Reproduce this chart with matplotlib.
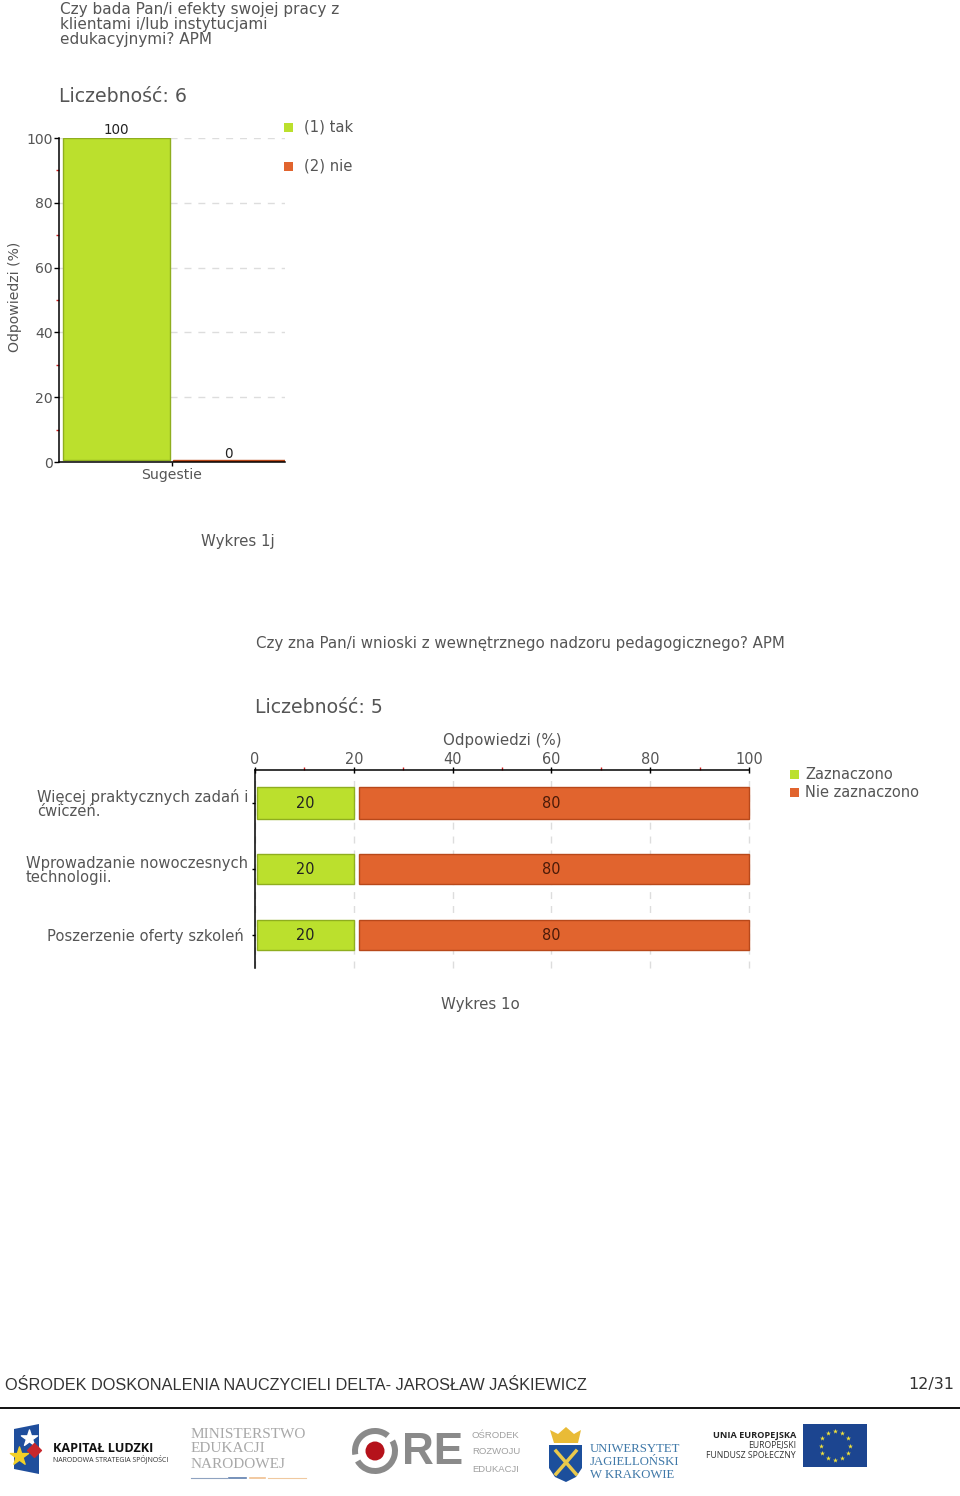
#!/usr/bin/env python
"""
Page 12/31 of the report: charts 1j and 1o with the footer logos
"""

import numpy as np
import matplotlib

matplotlib.use("Agg")
import matplotlib.pyplot as plt
from matplotlib.patches import Circle, Polygon, Rectangle, Wedge

WIDTH = 960
HEIGHT = 1496

GREEN = "#bbe02d"
GREEN_EDGE = "#8fae1f"
ORANGE = "#e1642e"
ORANGE_EDGE = "#b8481a"
TEXT = "#555555"
GRID = "#dddddd"
MINOR = "#d02020"

# Chart 1j
series_1j = ["(1) tak", "(2) nie"]
values_1j = [100, 0]
category_1j = "Sugestie"
yticks_1j = [0, 20, 40, 60, 80, 100]
yminor_1j = [10, 30, 50, 70, 90]

# Chart 1o
series_1o = ["Zaznaczono", "Nie zaznaczono"]
categories_1o = [
    "Więcej praktycznych zadań i\nćwiczeń.",
    "Wprowadzanie nowoczesnych\ntechnologii.",
    "Poszerzenie oferty szkoleń ",
]
checked_1o = [20, 20, 20]
unchecked_1o = [80, 80, 80]
xticks_1o = [0, 20, 40, 60, 80, 100]
xminor_1o = [10, 30, 50, 70, 90]


def px(size):
    # font size given in image pixels
    return size * 0.72


def axes_at(fig, left, top, right, bottom):
    return fig.add_axes(
        [left / WIDTH, 1 - bottom / HEIGHT, (right - left) / WIDTH, (bottom - top) / HEIGHT]
    )


def draw_chart_1j(fig):
    ax = axes_at(fig, 59, 138, 285, 462)
    ax.set_xlim(-1, 1)
    ax.set_ylim(0, 100)
    ax.set_axisbelow(True)
    ax.yaxis.grid(True, color=GRID, linestyle=(0, (5, 5)), linewidth=1)

    # bars stand just above the axis line, the empty one stays visible as a thin strip
    ax.bar(-0.49, values_1j[0] - 0.5, bottom=0.5, width=0.95, color=GREEN,
           edgecolor=GREEN_EDGE, linewidth=1)
    ax.bar(0.505, values_1j[1] + 0.25, bottom=0.3, width=0.99, color=ORANGE,
           edgecolor=ORANGE_EDGE, linewidth=1)
    ax.text(-0.49, values_1j[0] + 0.2, str(values_1j[0]), ha="center", va="bottom",
            fontsize=px(13.5), color="#222222")
    ax.text(0.5, values_1j[1] + 0.4, str(values_1j[1]), ha="center", va="bottom",
            fontsize=px(13.5), color="#222222")

    for side in ["top", "right"]:
        ax.spines[side].set_visible(False)
    ax.spines["left"].set_linewidth(1.1)
    ax.spines["bottom"].set_linewidth(1.1)

    ax.set_yticks(yticks_1j)
    ax.set_yticklabels([str(v) for v in yticks_1j], fontsize=px(14), color=TEXT)
    ax.set_yticks(yminor_1j, minor=True)
    ax.tick_params(axis="y", which="major", length=3.5, width=1, pad=1)
    ax.tick_params(axis="y", which="minor", length=2, width=1, color=MINOR)
    ax.set_xticks([0])
    ax.set_xticklabels([category_1j], fontsize=px(14), color=TEXT)
    ax.tick_params(axis="x", length=3, width=1, pad=1)
    ax.set_ylabel("Odpowiedzi (%)", fontsize=px(14), color=TEXT)
    ax.yaxis.set_label_coords(-0.165, 0.51)


def draw_chart_1o(fig):
    ax = axes_at(fig, 255, 770, 749, 968)
    ax.set_xlim(0, 100)
    ax.set_ylim(2.5, -0.5)
    ax.set_axisbelow(True)
    ax.xaxis.grid(True, color=GRID, linestyle=(0, (5, 5)), linewidth=1)
    for line in ax.get_xgridlines():
        line.set_clip_on(False)

    y = np.arange(len(categories_1o))
    heights = [0.49, 0.46, 0.46]
    ax.barh(y, [v - 0.4 for v in checked_1o], left=0.4, height=heights,
            color=GREEN, edgecolor=GREEN_EDGE, linewidth=1)
    bars = ax.barh(y, [v - 1 for v in unchecked_1o], left=[v + 1 for v in checked_1o],
                   height=heights, color=ORANGE, edgecolor=ORANGE_EDGE, linewidth=1)
    for bar in bars:
        bar.set_clip_on(False)
    for i in y:
        ax.text(10.2, i + 0.015, str(checked_1o[i]), ha="center", va="center",
                fontsize=px(14.5), color="#222222")
        ax.text(60, i + 0.015, str(unchecked_1o[i]), ha="center", va="center",
                fontsize=px(14.5), color="#4a1a08")

    for side in ["bottom", "right"]:
        ax.spines[side].set_visible(False)
    ax.spines["left"].set_linewidth(1.1)
    ax.spines["top"].set_linewidth(1.1)

    ax.xaxis.tick_top()
    ax.xaxis.set_label_position("top")
    ax.set_xticks(xticks_1o)
    ax.set_xticklabels([str(v) for v in xticks_1o], fontsize=px(14.5), color=TEXT)
    ax.set_xticks(xminor_1o, minor=True)
    ax.tick_params(axis="x", which="major", length=4, width=1, pad=0, direction="inout")
    ax.tick_params(axis="x", which="minor", length=2, width=1, color=MINOR)
    ax.set_xlabel("Odpowiedzi (%)", fontsize=px(15), color=TEXT, labelpad=5)

    ax.set_yticks(y)
    ax.set_yticklabels(categories_1o, fontsize=px(14.8), color=TEXT, ma="left", linespacing=0.95)
    ax.tick_params(axis="y", length=2, width=1, pad=3)


def draw_page(fig):
    # overlay in image pixels for the page text and logos
    ax = fig.add_axes([0, 0, 1, 1], zorder=5)
    ax.set_xlim(0, WIDTH)
    ax.set_ylim(HEIGHT, 0)
    ax.axis("off")

    title = "Czy bada Pan/i efekty swojej pracy z\nklientami i/lub instytucjami\nedukacyjnymi? APM"
    ax.text(60, 24, title, fontsize=px(15.3), color=TEXT, va="center", linespacing=1.0)
    ax.text(59, 96, "Liczebność: 6", fontsize=px(18.9), color=TEXT, va="center")
    ax.text(238, 541, "Wykres 1j", fontsize=px(15), color=TEXT, ha="center", va="center")

    ax.text(256, 643, "Czy zna Pan/i wnioski z wewnętrznego nadzoru pedagogicznego? APM",
            fontsize=px(15.03), color=TEXT, va="center")
    ax.text(255, 707, "Liczebność: 5", fontsize=px(18.9), color=TEXT, va="center")
    ax.text(480, 1004, "Wykres 1o", fontsize=px(15), color=TEXT, ha="center", va="center")

    # legends
    for yy, label, col in [(127, series_1j[0], GREEN), (166, series_1j[1], ORANGE)]:
        ax.add_patch(Rectangle((284, yy - 4.5), 9, 9, color=col, lw=0))
        ax.text(304, yy, label, fontsize=px(14.8), color=TEXT, va="center")
    for yy, label, col in [(774, series_1o[0], GREEN), (792, series_1o[1], ORANGE)]:
        ax.add_patch(Rectangle((790, yy - 4.5), 9, 9, color=col, lw=0))
        ax.text(805, yy, label, fontsize=px(14.6), color=TEXT, va="center")

    # footer
    ax.text(5, 1385, "OŚRODEK DOSKONALENIA NAUCZYCIELI DELTA- JAROSŁAW JAŚKIEWICZ",
            fontsize=px(16.3), color="#333333", va="center", family="Liberation Sans")
    ax.text(954, 1385, "12/31", fontsize=px(16), color="#333333", va="center", ha="right")
    ax.plot([0, 960], [1408, 1408], color="#111111", lw=1.4)

    # Kapitał Ludzki
    ax.add_patch(Polygon([(14, 1429), (39, 1424), (39, 1474), (14, 1469)], color="#1f4e9c", lw=0))
    ax.scatter([29], [1438], marker="*", s=150, color="white", zorder=6)
    ax.scatter([19], [1456], marker="*", s=190, color="#f2d027", zorder=6)
    ax.scatter([34], [1450], marker="D", s=50, color="#c8272d", zorder=6)
    ax.text(53, 1448, "KAPITAŁ LUDZKI", fontsize=px(12.6), weight="bold", color="#111111",
            va="center", family="Open Sans")
    ax.text(53, 1459, "NARODOWA STRATEGIA SPÓJNOŚCI", fontsize=px(7.0), color="#333333",
            va="center", family="Open Sans")

    # Ministerstwo
    for yy, line in [(1434, "MINISTERSTWO"), (1449, "EDUKACJI"), (1465, "NARODOWEJ")]:
        ax.text(191, yy, line, fontsize=px(15.2), color="#a8a8a8", va="center",
                family="Liberation Serif")
    ax.plot([191, 227], [1478, 1478], color="#8fa3c0", lw=0.8)
    ax.plot([229, 246], [1478, 1478], color="#5f7fae", lw=1.2)
    ax.plot([250, 265], [1478, 1478], color="#f0c090", lw=1.2)
    ax.plot([268, 306], [1478, 1478], color="#f0c9a0", lw=0.8)

    # ORE
    for start, end in [(330, 150), (170, 310)]:
        ax.add_patch(Wedge((375, 1451), 23, start, end, width=6, color="#8a8a8a", lw=0))
    ax.add_patch(Circle((375, 1451), 9.5, color="#b5121b", lw=0))
    ax.text(402, 1452, "RE", fontsize=px(44), weight="bold", color="#8a8a8a", va="center",
            family="Liberation Sans")
    for yy, line in [(1436, "OŚRODEK"), (1452, "ROZWOJU"), (1469, "EDUKACJI")]:
        ax.text(472, yy, line, fontsize=px(9.5), color="#a0a0a0", va="center",
                family="Liberation Sans")

    # UJ
    ax.add_patch(Polygon([(549, 1445), (582, 1445), (582, 1468), (576, 1477), (566, 1482),
                          (555, 1477), (549, 1468)], color="#1c4f9c", lw=0))
    ax.add_patch(Polygon([(550, 1430), (558, 1434), (566, 1427), (574, 1434), (581, 1430),
                          (578, 1443), (554, 1443)], color="#e9bb36", lw=0))
    ax.plot([556, 576], [1451, 1474], color="#e9c94c", lw=2.5)
    ax.plot([576, 556], [1451, 1474], color="#e9c94c", lw=2.5)
    for yy, line in [(1449, "UNIWERSYTET"), (1462, "JAGIELLOŃSKI"), (1475, "W KRAKOWIE")]:
        ax.text(590, yy, line, fontsize=px(12.8), color="#3f78a8", va="center",
                family="Liberation Serif")

    # EU
    ax.text(796, 1435, "UNIA EUROPEJSKA", fontsize=px(9.2), weight="bold", color="#222222",
            va="center", ha="right", family="Open Sans")
    ax.text(796, 1445, "EUROPEJSKI", fontsize=px(8.7), color="#333333", va="center", ha="right",
            family="Open Sans")
    ax.text(796, 1456, "FUNDUSZ SPOŁECZNY", fontsize=px(8.6), color="#333333", va="center",
            ha="right", family="Open Sans")
    ax.add_patch(Rectangle((803, 1424), 64, 43, color="#1c4590", lw=0))
    angles = np.deg2rad(np.arange(0, 360, 30))
    ax.scatter(835 + 14.5 * np.cos(angles), 1445.5 + 14.5 * np.sin(angles), marker="*", s=14,
               color="#f3e33a", linewidths=0, zorder=6)


def main():
    fig = plt.figure(figsize=(WIDTH / 100, HEIGHT / 100), dpi=100)
    draw_chart_1j(fig)
    draw_chart_1o(fig)
    draw_page(fig)
    fig.savefig("out.png", dpi=100)


if __name__ == "__main__":
    main()
